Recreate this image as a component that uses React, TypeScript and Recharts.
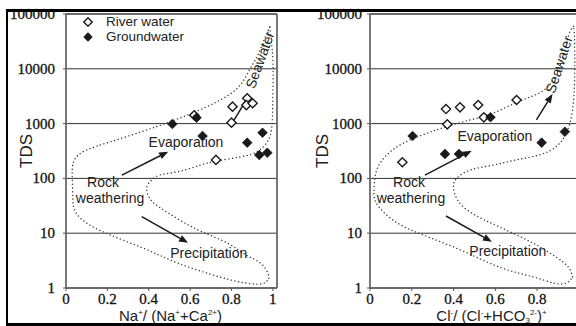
import React from 'react';
import { ScatterChart, Scatter, XAxis, YAxis, CartesianGrid, ReferenceLine, ReferenceDot, Legend } from 'recharts';

// ---------- data ----------
const yTicks = [1, 10, 100, 1000, 10000, 100000];
const leftXTicks = [0, 0.2, 0.4, 0.6, 0.8, 1];
const rightXTicks = [0, 0.2, 0.4, 0.6, 0.8];
const seriesNames = ['River water', 'Groundwater'];

// Na+/(Na+ + Ca2+) panel
const naRiver = [
  { x: 0.62, y: 1420 }, { x: 0.805, y: 2040 }, { x: 0.8, y: 1040 }, { x: 0.876, y: 2900 },
  { x: 0.872, y: 2180 }, { x: 0.902, y: 2350 }, { x: 0.725, y: 217 },
];
const naGround = [
  { x: 0.514, y: 985 }, { x: 0.631, y: 1280 }, { x: 0.66, y: 594 }, { x: 0.876, y: 449 },
  { x: 0.95, y: 682 }, { x: 0.934, y: 267 }, { x: 0.973, y: 294 },
];
// Cl-/(Cl- + HCO3-) panel
const clRiver = [
  { x: 0.155, y: 197 }, { x: 0.37, y: 971 }, { x: 0.364, y: 1845 }, { x: 0.431, y: 1983 },
  { x: 0.518, y: 2184 }, { x: 0.545, y: 1303 }, { x: 0.702, y: 2697 },
];
const clGround = [
  { x: 0.204, y: 594 }, { x: 0.359, y: 279 }, { x: 0.426, y: 279 }, { x: 0.577, y: 1303 },
  { x: 0.822, y: 449 }, { x: 0.933, y: 711 },
];

// Gibbs envelope curves
const naOuter = [
  { x: 0.985, y: 58000 }, { x: 0.955, y: 32000 }, { x: 0.925, y: 17000 }, { x: 0.89, y: 10000 },
  { x: 0.85, y: 5500 }, { x: 0.78, y: 3200 }, { x: 0.65, y: 1800 }, { x: 0.5, y: 1070 },
  { x: 0.36, y: 700 }, { x: 0.21, y: 460 }, { x: 0.1, y: 330 }, { x: 0.04, y: 215 },
  { x: 0.03, y: 105 }, { x: 0.033, y: 46 }, { x: 0.05, y: 23 }, { x: 0.16, y: 11.4 },
  { x: 0.36, y: 5.6 }, { x: 0.54, y: 2.86 }, { x: 0.74, y: 1.6 }, { x: 0.87, y: 1.23 },
  { x: 0.95, y: 1.2 }, { x: 0.98, y: 1.5 },
];
const naInner = [
  { x: 0.98, y: 1.5 }, { x: 0.975, y: 1.9 }, { x: 0.94, y: 2.86 }, { x: 0.87, y: 4 },
  { x: 0.78, y: 6.6 }, { x: 0.66, y: 10.5 }, { x: 0.55, y: 17.4 }, { x: 0.45, y: 30 },
  { x: 0.405, y: 43 }, { x: 0.39, y: 67 }, { x: 0.415, y: 94 }, { x: 0.46, y: 117 },
  { x: 0.55, y: 135 }, { x: 0.65, y: 175 }, { x: 0.73, y: 208 }, { x: 0.84, y: 246 },
  { x: 0.92, y: 302 }, { x: 0.97, y: 445 }, { x: 0.995, y: 870 }, { x: 1.0, y: 3600 },
  { x: 1.0, y: 14500 }, { x: 0.985, y: 58000 },
];
const clOuter = [
  { x: 0.975, y: 60000 }, { x: 0.955, y: 45000 }, { x: 0.933, y: 22000 }, { x: 0.895, y: 8400 },
  { x: 0.83, y: 4000 }, { x: 0.72, y: 2600 }, { x: 0.59, y: 1560 }, { x: 0.48, y: 1170 },
  { x: 0.367, y: 880 }, { x: 0.27, y: 660 }, { x: 0.16, y: 440 }, { x: 0.08, y: 267 },
  { x: 0.032, y: 142 }, { x: 0.02, y: 70 }, { x: 0.03, y: 35.6 }, { x: 0.11, y: 17.4 },
  { x: 0.23, y: 10.1 }, { x: 0.43, y: 5 }, { x: 0.62, y: 2.4 }, { x: 0.78, y: 1.6 },
  { x: 0.88, y: 1.23 }, { x: 0.94, y: 1.23 }, { x: 0.97, y: 1.6 },
];
const clInner = [
  { x: 0.97, y: 1.6 }, { x: 0.95, y: 2.4 }, { x: 0.89, y: 3.7 }, { x: 0.78, y: 6.6 },
  { x: 0.62, y: 13 }, { x: 0.49, y: 23 }, { x: 0.42, y: 40 }, { x: 0.4, y: 70 },
  { x: 0.415, y: 100 }, { x: 0.48, y: 142 }, { x: 0.59, y: 175 }, { x: 0.7, y: 218 },
  { x: 0.81, y: 267 }, { x: 0.89, y: 375 }, { x: 0.94, y: 670 }, { x: 0.97, y: 1770 },
  { x: 0.98, y: 7000 }, { x: 0.98, y: 30000 }, { x: 0.975, y: 60000 },
];

// ---------- styles ----------
const SANS = "'Liberation Sans', Arial, sans-serif";
const SERIF = "'Liberation Serif', 'DejaVu Serif', serif";
const INK = '#1a1a1a';
const FRAME = '#6a6a6a';
const DOT_LINE = { stroke: '#3a3a3a', strokeWidth: 1.4, strokeDasharray: '0.1 3.6', strokeLinecap: 'round' as const };

const openDiamond = (p: any) => (
  <polygon
    points={`${p.cx},${p.cy - 4.6} ${p.cx + 4.6},${p.cy} ${p.cx},${p.cy + 4.6} ${p.cx - 4.6},${p.cy}`}
    fill="#fff" stroke={INK} strokeWidth={1.4}
  />
);
const filledDiamond = (p: any) => (
  <polygon
    points={`${p.cx},${p.cy - 4.8} ${p.cx + 4.8},${p.cy} ${p.cx},${p.cy + 4.8} ${p.cx - 4.8},${p.cy}`}
    fill={INK} stroke={INK} strokeWidth={0.8}
  />
);
const noShape = () => <g />;

const arrowShape = (head: boolean) => (p: any) => {
  const { x1, y1, x2, y2 } = p;
  const ang = Math.atan2(y2 - y1, x2 - x1);
  const L = 9, W = 3.6;
  const bx = x2 - L * Math.cos(ang), by = y2 - L * Math.sin(ang);
  const px = -Math.sin(ang) * W, py = Math.cos(ang) * W;
  return (
    <g>
      <line x1={x1} y1={y1} x2={head ? bx : x2} y2={head ? by : y2} stroke={INK} strokeWidth={1.5} />
      {head && <polygon points={`${x2},${y2} ${bx + px},${by + py} ${bx - px},${by - py}`} fill={INK} />}
    </g>
  );
};

const textShape = (t: string, angle = 0) => (p: any) => (
  <text
    x={p.cx} y={p.cy} textAnchor="middle" dominantBaseline="central"
    transform={angle ? `rotate(${angle} ${p.cx} ${p.cy})` : undefined}
    style={{ fontFamily: SANS }} fontSize={14} fill="#222"
  >{t}</text>
);

const yTick = (p: any) => (
  <text x={p.x} y={p.y} textAnchor="end" dominantBaseline="central"
    style={{ fontFamily: SERIF }} fontSize={15} fill="#111" stroke="#111" strokeWidth={0.3}>
    {String(p.payload.value)}
  </text>
);
const xTick = (p: any) => (
  <text x={p.x} y={p.y} textAnchor="middle" dominantBaseline="hanging"
    style={{ fontFamily: SERIF }} fontSize={15} fill="#111" stroke="#111" strokeWidth={0.3}>
    {String(p.payload.value)}
  </text>
);

const tdsLabel = (gap: number) => (props: any) => {
  const vb = props.viewBox;
  const x = vb.x + vb.width - gap;
  const y = vb.y + vb.height / 2;
  return (
    <text x={x} y={y} textAnchor="middle" dominantBaseline="central" transform={`rotate(-90 ${x} ${y})`}
      style={{ fontFamily: SANS }} fontSize={17} fill="#222">TDS</text>
  );
};

const naAxisLabel = (props: any) => {
  const vb = props.viewBox;
  const x = vb.x + vb.width / 2 - 1;
  const y = vb.y + vb.height + 3;
  return (
    <text x={x} y={y} textAnchor="middle" style={{ fontFamily: SANS }} fontSize={15} fill="#222">
      Na<tspan dy={-6} fontSize={8}>+</tspan><tspan dy={6}>/ (Na</tspan><tspan dy={-6} fontSize={8}>+</tspan>
      <tspan dy={6}>+Ca</tspan><tspan dy={-6} fontSize={8}>2+</tspan><tspan dy={6}>)</tspan>
    </text>
  );
};
const clAxisLabel = (props: any) => {
  const vb = props.viewBox;
  const x = vb.x + vb.width / 2 + 15;
  const y = vb.y + vb.height + 3;
  return (
    <text x={x} y={y} textAnchor="middle" style={{ fontFamily: SANS }} fontSize={15} fill="#222">
      Cl<tspan dy={-6} fontSize={8}>-</tspan><tspan dy={6}>/ (Cl</tspan><tspan dy={-6} fontSize={8}>-</tspan>
      <tspan dy={6}>+HCO</tspan><tspan dy={2} fontSize={8}>3</tspan><tspan dy={-8} fontSize={8}>2-</tspan>
      <tspan dy={6}>)</tspan><tspan dy={-6} fontSize={8}>+</tspan>
    </text>
  );
};

const legendContent = (props: any) => {
  const payload = (props.payload || []).filter((e: any) => seriesNames.includes(e.value));
  payload.sort((a: any, b: any) => seriesNames.indexOf(a.value) - seriesNames.indexOf(b.value));
  return (
    <div style={{ fontFamily: SANS, fontSize: 13.5, lineHeight: '15px', color: '#222' }}>
      {payload.map((e: any) => (
        <div key={e.value} style={{ display: 'flex', alignItems: 'center', height: 15 }}>
          <svg width={10} height={10} style={{ marginRight: 13 }}>
            {e.value === seriesNames[0]
              ? <polygon points="5,0.8 9.2,5 5,9.2 0.8,5" fill="#fff" stroke={INK} strokeWidth={1.4} />
              : <polygon points="5,0.3 9.7,5 5,9.7 0.3,5" fill={INK} />}
          </svg>
          <span>{e.value}</span>
        </div>
      ))}
    </div>
  );
};

function Panel(props: {
  width: number; marginLeft: number; marginRight: number; xMax: number; xTicks: number[];
  river: any[]; ground: any[]; outer: any[]; inner: any[]; yTickMargin: number; tdsGap: number;
  axisLabel: (p: any) => any; legend?: boolean; frameRight?: boolean; children?: any;
}) {
  return (
    <ScatterChart width={props.width} height={326}
      margin={{ top: 14, right: props.marginRight, bottom: 8, left: props.marginLeft }}>
      <CartesianGrid vertical={false} stroke="#333" strokeWidth={1} />
      <XAxis type="number" dataKey="x" domain={[0, props.xMax]} ticks={props.xTicks} allowDataOverflow
        height={30} tickSize={3} tickMargin={3} tick={xTick}
        axisLine={{ stroke: FRAME, strokeWidth: 1.8 }} tickLine={{ stroke: '#555' }}
        label={props.axisLabel} />
      <YAxis type="number" dataKey="y" scale="log" domain={[1, 100000]} ticks={yTicks} allowDataOverflow
        width={56} tickSize={3} tickMargin={props.yTickMargin} tick={yTick}
        axisLine={{ stroke: FRAME, strokeWidth: 1.8 }} tickLine={{ stroke: '#555' }}
        label={tdsLabel(props.tdsGap)} />
      <ReferenceLine y={100000} stroke={FRAME} strokeWidth={1.8} />
      {props.frameRight && <ReferenceLine x={props.xMax} stroke={FRAME} strokeWidth={1.8} />}
      <Scatter data={props.outer} line={DOT_LINE} lineJointType="natural" shape={noShape}
        legendType="none" isAnimationActive={false} />
      <Scatter data={props.inner} line={DOT_LINE} lineJointType="natural" shape={noShape}
        legendType="none" isAnimationActive={false} />
      {props.children}
      <Scatter name={seriesNames[0]} data={props.river} shape={openDiamond} isAnimationActive={false} />
      <Scatter name={seriesNames[1]} data={props.ground} shape={filledDiamond} isAnimationActive={false} />
      {props.legend && (
        <Legend layout="vertical" align="center" verticalAlign="middle" content={legendContent}
          wrapperStyle={{ left: 83, top: 14, width: 'auto', height: 'auto' }} />
      )}
    </ScatterChart>
  );
}

export default function App() {
  return (
    <div style={{ position: 'fixed', left: 0, top: 0, width: 576, height: 326, overflow: 'hidden', background: '#fff' }}>
      <div style={{ position: 'absolute', left: 0, top: 0 }}>
        <Panel width={290} marginLeft={10} marginRight={13} xMax={1.02} xTicks={leftXTicks}
          river={naRiver} ground={naGround} outer={naOuter} inner={naInner}
          yTickMargin={8} tdsGap={40} axisLabel={naAxisLabel} legend frameRight>
          <ReferenceLine segment={[{ x: 0.27, y: 115 }, { x: 0.494, y: 307 }]} shape={arrowShape(true)} />
          <ReferenceLine segment={[{ x: 0.366, y: 20 }, { x: 0.59, y: 6.7 }]} shape={arrowShape(true)} />
          <ReferenceLine segment={[{ x: 0.805, y: 1040 }, { x: 0.876, y: 2897 }]} shape={arrowShape(false)} />
          <ReferenceDot x={0.58} y={461} r={1} shape={textShape('Evaporation')} />
          <ReferenceDot x={0.179} y={86} r={1} shape={textShape('Rock')} />
          <ReferenceDot x={0.213} y={44} r={1} shape={textShape('weathering')} />
          <ReferenceDot x={0.69} y={4.35} r={1} shape={textShape('Precipitation')} />
          <ReferenceDot x={0.937} y={14500} r={1} shape={textShape('Seawater', -70)} />
        </Panel>
      </div>
      <div style={{ position: 'absolute', left: 290, top: 0 }}>
        <Panel width={293} marginLeft={24} marginRight={0} xMax={1.02} xTicks={rightXTicks}
          river={clRiver} ground={clGround} outer={clOuter} inner={clInner}
          yTickMargin={5} tdsGap={48} axisLabel={clAxisLabel}>
          <ReferenceLine segment={[{ x: 0.263, y: 115 }, { x: 0.487, y: 320 }]} shape={arrowShape(true)} />
          <ReferenceLine segment={[{ x: 0.364, y: 20.6 }, { x: 0.584, y: 7 }]} shape={arrowShape(true)} />
          <ReferenceLine segment={[{ x: 0.797, y: 1165 }, { x: 0.874, y: 3470 }]} shape={arrowShape(true)} />
          <ReferenceDot x={0.598} y={594} r={1} shape={textShape('Evaporation')} />
          <ReferenceDot x={0.187} y={86} r={1} shape={textShape('Rock')} />
          <ReferenceDot x={0.196} y={44} r={1} shape={textShape('weathering')} />
          <ReferenceDot x={0.66} y={4.73} r={1} shape={textShape('Precipitation')} />
          <ReferenceDot x={0.905} y={12000} r={1} shape={textShape('Seawater', -72)} />
        </Panel>
      </div>
      <div style={{
        position: 'absolute', left: 6, top: 9, width: 700, height: 317, boxSizing: 'border-box',
        borderTop: '3px solid #000', borderLeft: '2px solid #000', borderBottom: '3px solid #000',
        pointerEvents: 'none', zIndex: 5,
      }} />
    </div>
  );
}
